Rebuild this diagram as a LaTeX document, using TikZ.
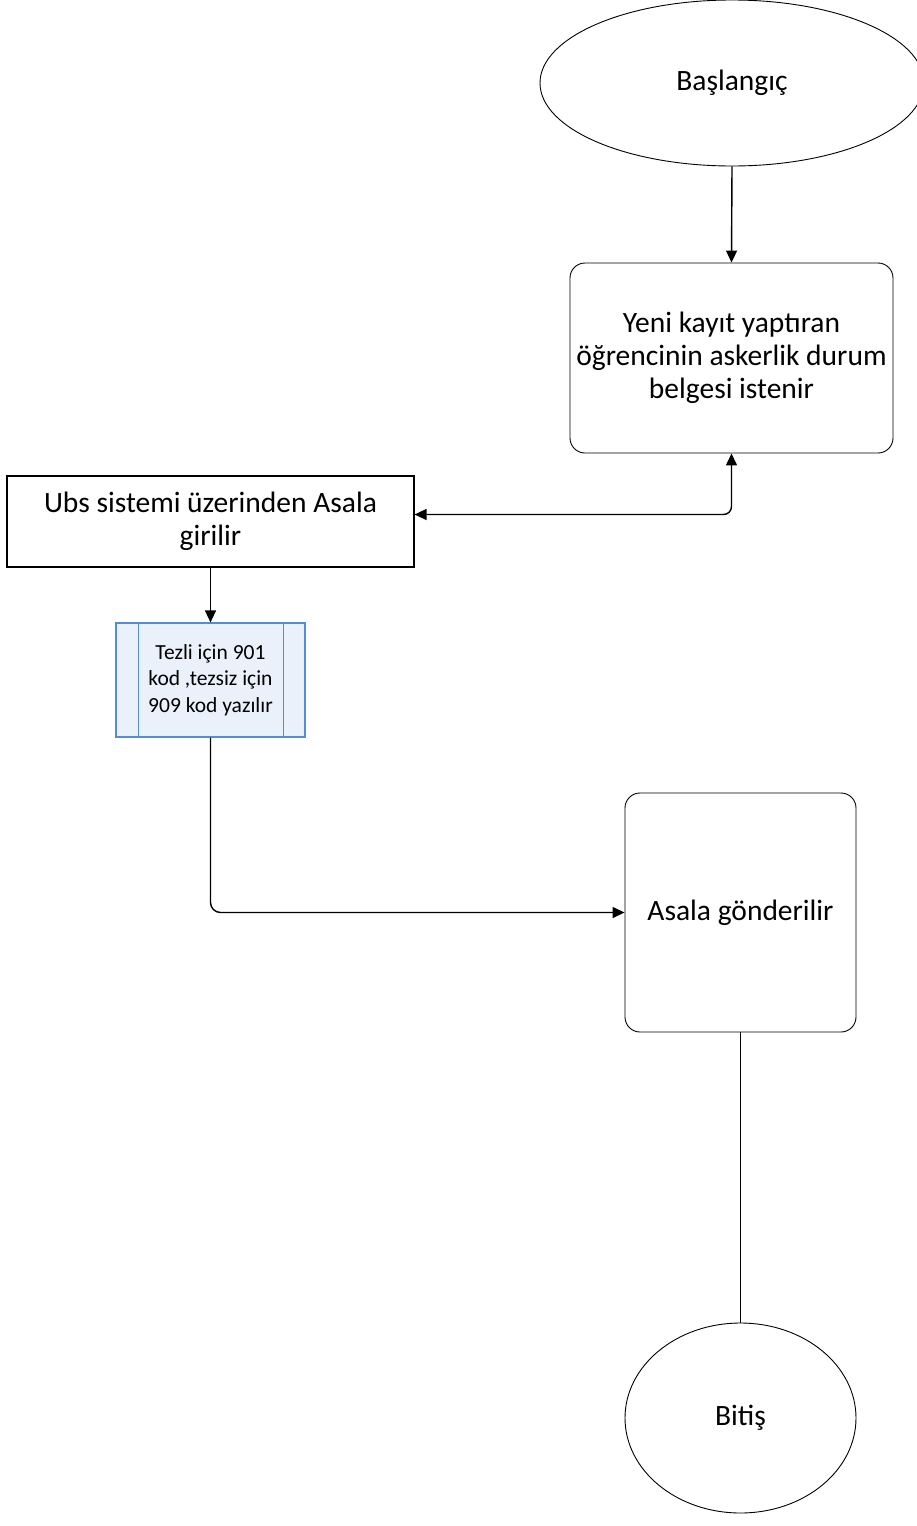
\documentclass[tikz,border=0pt]{standalone}
\usepackage{fontspec}
\setmainfont{Carlito}
\usetikzlibrary{shapes.geometric,arrows.meta}
\definecolor{kodblue}{RGB}{84,141,212}
\definecolor{kodfill}{RGB}{234,241,250}

\begin{document}
\begin{tikzpicture}[x=1pt,y=-1pt,
    every node/.style={font=\fontsize{29.5}{33}\selectfont,align=center},
    terminal/.style={draw,ellipse,line width=0.9pt,inner sep=0pt},
    stepbox/.style={draw,rectangle,rounded corners=15,line width=0.9pt,inner sep=0pt},
    plainbox/.style={draw,rectangle,line width=1.2pt,inner sep=0pt},
    kodbox/.style={draw=kodblue,fill=kodfill,line width=1.2pt,inner sep=0pt,
      font=\fontsize{21.5}{26.5}\selectfont},
    conn/.style={line width=1.4pt,-{Triangle[length=12pt,width=11pt]}}]
  \useasboundingbox (0,0) rectangle (917,1526);

  \node[terminal,minimum width=384,minimum height=166] (start) at (732,83) {Başlangıç};
  \node[stepbox,minimum width=323,minimum height=190] (kayit) at (731.5,358)
    {Yeni kayıt yaptıran\\öğrencinin askerlik durum\\belgesi istenir};
  \node[plainbox,minimum width=407,minimum height=91] (ubs) at (210.5,521.5)
    {Ubs sistemi üzerinden Asala\\girilir};
  \node[kodbox,minimum width=189,minimum height=114] (kod) at (210.5,680)
    {Tezli için 901\\kod ,tezsiz için\\909 kod yazılır};
  \draw[kodblue,line width=1.2pt]
    ([xshift=23]kod.north west) -- ([xshift=23]kod.south west)
    ([xshift=-22]kod.north east) -- ([xshift=-22]kod.south east);
  \node[stepbox,minimum width=231,minimum height=239] (asala) at (740.5,912.5)
    {Asala gönderilir};
  \node[terminal,minimum width=231,minimum height=190] (bitis) at (740.5,1418) {Bitiş};

  \draw[conn] (start.south) -- (kayit.north);
  \draw[conn,{Triangle[length=12pt,width=11pt]}-{Triangle[length=12pt,width=11pt]},rounded corners=8]
    ([yshift=7]ubs.east) -| (kayit.south);
  \draw[conn] (ubs.south) -- (kod.north);
  \draw[conn,rounded corners=10] (kod.south) |- (asala.west);
  \draw[line width=1.4pt] (asala.south) -- (bitis.north);
\end{tikzpicture}
\end{document}
